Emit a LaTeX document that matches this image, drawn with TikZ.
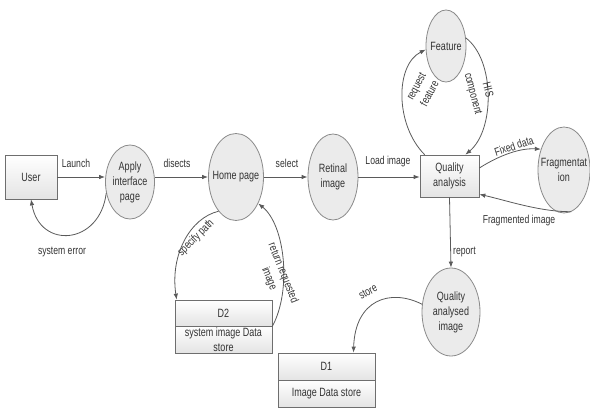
\documentclass[tikz,border=0pt]{standalone}
\usepackage{fontspec}
\setmainfont{Liberation Sans}[FakeStretch=0.75]
\usetikzlibrary{arrows.meta,calc,shapes.geometric}
\definecolor{ellfill}{HTML}{EBEBEB}
\definecolor{ellline}{HTML}{8A8A8A}
\definecolor{boxline}{HTML}{6E6E6E}
\definecolor{boxbot}{HTML}{E4E4E4}
\definecolor{arrowc}{HTML}{5A5A5A}
\definecolor{txt}{HTML}{333333}
\tikzset{
  proc/.style={ellipse, draw=ellline, fill=ellfill, line width=0.8pt,
    inner xsep=-8pt, inner ysep=-4pt, align=center},
  ent/.style={rectangle, draw=boxline, top color=white, bottom color=boxbot,
    line width=0.7pt, inner sep=0pt, align=center},
  flow/.style={draw=arrowc, line width=0.8pt, -{Latex[length=6pt,width=4.5pt]}},
  lbl/.style={font=\fontsize{11.5}{15}\selectfont, inner sep=1pt, align=center}
}
\begin{document}
\begin{tikzpicture}[x=1pt, y=-1pt, font=\fontsize{12}{15}\selectfont, text=txt]
\path[use as bounding box] (0,0) rectangle (590,412);
% nodes
\node[ent, minimum width=52, minimum height=44] (user) at (31,177) {User};
\node[proc, minimum width=49, minimum height=74] (apply) at (130,182) {Apply\\interface\\page};
\node[proc, minimum width=55, minimum height=87] (home) at (236,177) {Home page};
\node[proc, minimum width=50, minimum height=86] (retinal) at (333,177) {Retinal\\image};
\node[ent, minimum width=59, minimum height=42] (qa) at (449.5,176) {Quality\\analysis};
\node[proc, minimum width=40, minimum height=72] (feature) at (446,46) {Feature};
\node[proc, minimum width=52, minimum height=86] (frag) at (564,170) {Fragmentat\\ion};
\node[proc, minimum width=58, minimum height=88] (qai) at (451,312) {Quality\\analysed\\image};
\node[ent, minimum width=97, minimum height=26] (d2t) at (223.5,313) {D2};
\node[ent, minimum width=97, minimum height=27] (d2b) at (223.5,339.5) {system image Data\\store};
\node[ent, minimum width=97, minimum height=27] (d1t) at (326.5,366.5) {D1};
\node[ent, minimum width=97, minimum height=27] (d1b) at (326.5,393.5) {Image Data store};
% flows
\draw[flow] (user.east) -- (user.east -| apply.west);
\draw[flow] (apply.east |- home.west) -- (home.west);
\draw[flow] (home.east) -- (retinal.west);
\draw[flow] (retinal.east) -- (retinal.east -| qa.west);
\draw[flow] (apply.205) .. controls (100,245) and (40,250) .. (user.south);
\draw[flow] (home.243) .. controls (190,218) and (170,255) .. ($(d2t.north west)+(2,0)$);
\draw[flow] (d2t.south east) .. controls (292,290) and (285,225) .. (home.-50);
\draw[flow] ($(qa.north west)+(5,0)$) .. controls (395,125) and (395,65) .. (feature.190);
\draw[flow] (feature.22) .. controls (495,60) and (495,130) .. ($(qa.north east)+(-14,0)$);
\draw[flow] ($(qa.east)+(0,-8)$) .. controls (500,155) and (520,148) .. (frag.138);
\draw[flow] (frag.-80) .. controls (540,212) and (505,200) .. ($(qa.south east)+(0,-3)$);
\draw[flow] (qa.south) -- (qai.north);
\draw[flow] (qai.165) .. controls (390,288) and (355,300) .. ($(d1t.north)+(27,0)$);
% labels
\node[lbl] (llaunch) at (76,163) {Launch};
\node[lbl] (ldis) at (177,163) {disects};
\node[lbl] (lsel) at (287,163) {select};
\node[lbl] (lload) at (388,162) {Load image};
\node[lbl] (lse) at (62,252) {system error};
\node[lbl, rotate=45] (lsp) at (196,238) {specify path};
\node[lbl, rotate=-68] (lrr) at (276,276) {return requested\\image};
\node[lbl, rotate=62] (lrf) at (423,90) {request\\feature};
\node[lbl, rotate=-75] (lhis) at (480,92) {HIS\\component};
\node[lbl, rotate=18] (lfd) at (514,146) {Fixed data};
\node[lbl] (lfi) at (519,221) {Fragmented image};
\node[lbl, anchor=west] (lrep) at (452,252) {report};
\node[lbl, rotate=28] (lst) at (368,292) {store};
\end{tikzpicture}
\end{document}
